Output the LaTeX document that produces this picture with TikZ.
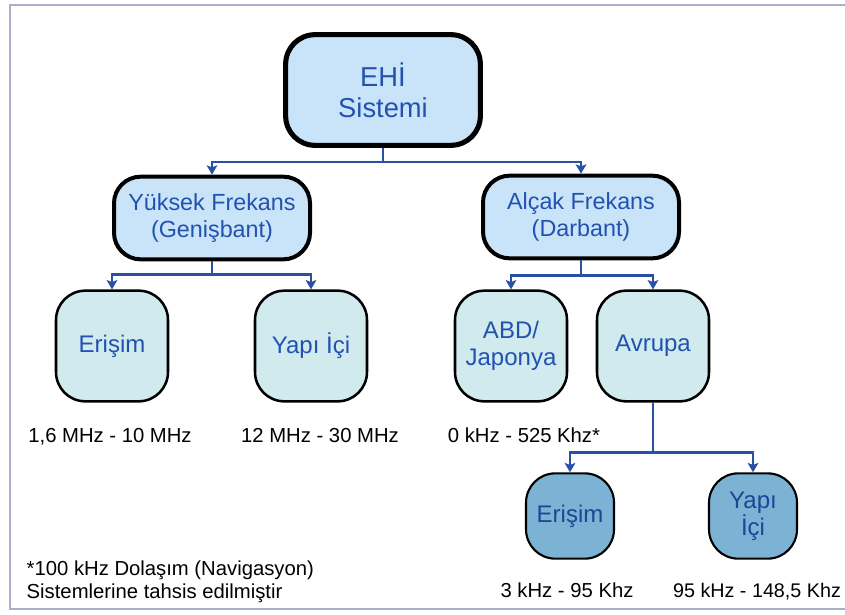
\documentclass[tikz,border=0pt]{standalone}
\usepackage{fontspec}
\setmainfont{Liberation Sans}
\usetikzlibrary{arrows.meta,positioning}
\definecolor{ustmavi}{RGB}{201,228,249}
\definecolor{altmavi}{RGB}{208,234,238}
\definecolor{koyumavi}{RGB}{124,178,212}
\definecolor{yazimavi}{RGB}{34,82,176}
\definecolor{hatmavi}{RGB}{40,80,164}
\definecolor{cerceve}{RGB}{168,176,204}
\tikzstyle{sistem} = [draw=black, line width=3.8pt, rounded corners=22pt, fill=ustmavi, text=yazimavi, align=center, minimum width=146pt, minimum height=83pt, font=\fontsize{20.5}{23}\selectfont]
\tikzstyle{bant} = [draw=black, line width=3pt, rounded corners=20pt, fill=ustmavi, text=yazimavi, align=center, minimum width=147pt, minimum height=62pt, font=\fontsize{17.5}{20.5}\selectfont]
\tikzstyle{bolge} = [draw=black, line width=1.9pt, rounded corners=22pt, fill=altmavi, text=yazimavi, align=center, minimum width=84pt, minimum height=83pt, font=\fontsize{18}{20.5}\selectfont]
\tikzstyle{alt} = [draw=black, line width=1.6pt, rounded corners=22pt, fill=koyumavi, text=yazimavi!85!black, align=center, minimum width=66pt, minimum height=64pt, font=\fontsize{18}{20}\selectfont]
\tikzstyle{frekans} = [anchor=base, font=\fontsize{15.2}{17}\selectfont]
\tikzstyle{hat} = [draw=hatmavi, line width=1.8pt, -{Stealth[length=7pt,width=8pt,inset=1.5pt]}]

\begin{document}
\begin{tikzpicture}[x=0.75pt, y=-0.75pt]
    \useasboundingbox (0,0) rectangle (845,614);
    \draw[cerceve, line width=1.5pt] (845,5) -- (10,5) -- (10,609) -- (845,609);

    \node[sistem] (ehi) at (383,90) {EHİ\\Sistemi};
    \node[bant] (yuksek) at (212,218) {Yüksek Frekans\\(Genişbant)};
    \node[bant] (alcak) at (581,217) {Alçak Frekans\\(Darbant)};

    \node[bolge] (erisim) at (112,346) {Erişim};
    \node[bolge] (yapi) at (311,346) {Yapı İçi};
    \node[bolge] (abd) at (511,346) {ABD/\\Japonya};
    \node[bolge] (avrupa) at (653,346) {Avrupa};

    \node[alt] (aerisim) at (570,516) {Erişim};
    \node[alt] (ayapi) at (753,516) {Yapı\\İçi};

    \node[frekans] (ferisim) at (110,442) {1,6 MHz - 10 MHz};
    \node[frekans] (fyapi) at (320,442) {12 MHz - 30 MHz};
    \node[frekans] (fabd) at (524,442) {0 kHz - 525 Khz*};
    \node[frekans] (faerisim) at (567,597) {3 kHz - 95 Khz};
    \node[frekans, font=\fontsize{14.8}{17}\selectfont] (fayapi) at (757,597) {95 kHz - 148,5 Khz};
    \node[frekans, anchor=west, align=left] (dipnot) at (22,582) {*100 kHz Dolaşım (Navigasyon)\\Sistemlerine tahsis edilmiştir};

    \draw[hat] (ehi.south) -- ++(0,14) -| (yuksek.north);
    \draw[hat] (ehi.south) -- ++(0,14) -| (alcak.north);
    \draw[hat] (yuksek.south) -- ++(0,13) -| (erisim.north);
    \draw[hat] (yuksek.south) -- ++(0,13) -| (yapi.north);
    \draw[hat] (alcak.south) -- ++(0,15) -| (abd.north);
    \draw[hat] (alcak.south) -- ++(0,15) -| (avrupa.north);
    \draw[hat] (avrupa.south) -- ++(0,50) -| (aerisim.north);
    \draw[hat] (avrupa.south) -- ++(0,50) -| (ayapi.north);
\end{tikzpicture}
\end{document}
